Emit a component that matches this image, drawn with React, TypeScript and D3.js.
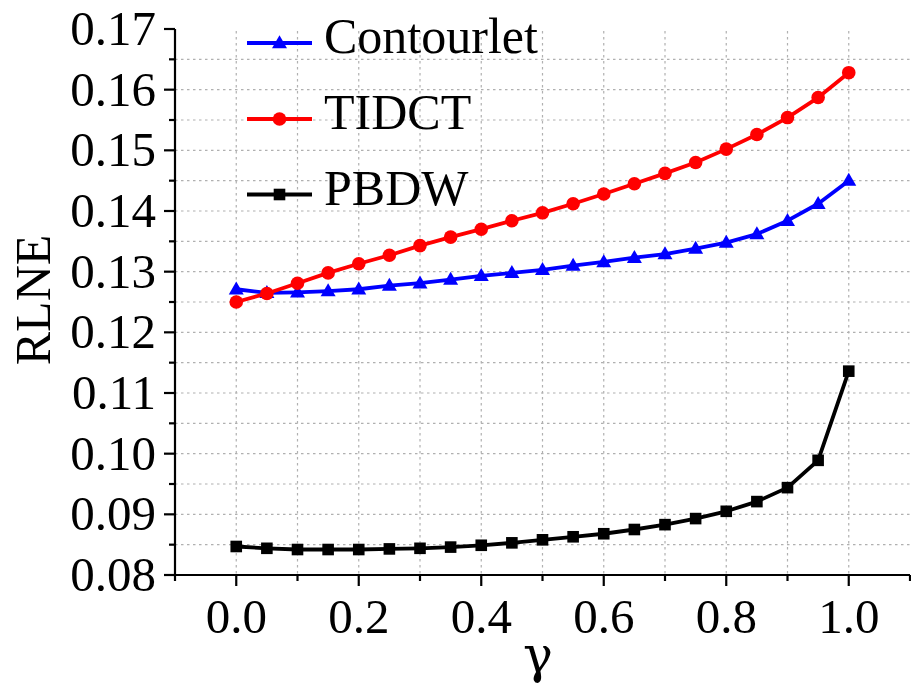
import React from "react";
import * as d3 from "d3";

const gammas = [0, 0.05, 0.1, 0.15, 0.2, 0.25, 0.3, 0.35, 0.4, 0.45, 0.5, 0.55, 0.6, 0.65, 0.7, 0.75, 0.8, 0.85, 0.9, 0.95, 1.0];
const contourlet = [0.1271, 0.1265, 0.1266, 0.1268, 0.1271, 0.1277, 0.1281, 0.1287, 0.1293, 0.1298, 0.1303, 0.1310, 0.1316, 0.1323, 0.1329, 0.1338, 0.1348, 0.1362, 0.1384, 0.1412, 0.1450];
const tidct = [0.1250, 0.1264, 0.1281, 0.1298, 0.1313, 0.1327, 0.1343, 0.1357, 0.1370, 0.1384, 0.1397, 0.1412, 0.1428, 0.1445, 0.1462, 0.1480, 0.1502, 0.1526, 0.1554, 0.1587, 0.1628];
const pbdw = [0.0847, 0.0844, 0.0842, 0.0842, 0.0842, 0.0843, 0.0844, 0.0846, 0.0849, 0.0853, 0.0858, 0.0863, 0.0868, 0.0875, 0.0883, 0.0893, 0.0905, 0.0921, 0.0944, 0.0989, 0.1136];
const xMajorTicks = [0, 0.2, 0.4, 0.6, 0.8, 1.0];
const xMinorTicks = [-0.1, 0.1, 0.3, 0.5, 0.7, 0.9, 1.1];
const xGrid = [0, 0.1, 0.2, 0.3, 0.4, 0.5, 0.6, 0.7, 0.8, 0.9, 1.0];
const yMajorTicks = [0.08, 0.09, 0.10, 0.11, 0.12, 0.13, 0.14, 0.15, 0.16, 0.17];
const yMinorTicks = [0.085, 0.095, 0.105, 0.115, 0.125, 0.135, 0.145, 0.155, 0.165];
const yGrid = [0.085, 0.09, 0.095, 0.10, 0.105, 0.11, 0.115, 0.12, 0.125, 0.13, 0.135, 0.14, 0.145, 0.15, 0.155, 0.16, 0.165];
const seriesNames = ["Contourlet", "TIDCT", "PBDW"];
const seriesColors = ["#0000ff", "#ff0000", "#000000"];
const seriesMarkers = ["triangle", "circle", "square"];

const W = 911, H = 690;
const FONT = "'Liberation Serif', 'Times New Roman', serif";

function Marker({ type, x, y, color }: { type: string; x: number; y: number; color: string }) {
  if (type === "circle") return <circle cx={x} cy={y} r={6.8} fill={color} />;
  if (type === "square") return <rect x={x - 5.8} y={y - 5.8} width={11.6} height={11.6} fill={color} />;
  const s = 15;
  const h = s * Math.sqrt(3) / 2;
  return <path d={`M${x},${y - h * 0.6}L${x + s / 2},${y + h * 0.4}L${x - s / 2},${y + h * 0.4}Z`} fill={color} />;
}

export default function App() {
  const x = d3.scaleLinear().domain([-0.1, 1.1]).range([175, 910]);
  const y = d3.scaleLinear().domain([0.08, 0.17]).range([575, 29]);
  const fmtX = d3.format(".1f");
  const fmtY = d3.format(".2f");
  const data = [contourlet, tidct, pbdw];
  const line = d3.line<number>().x((_, i) => x(gammas[i])).y((d) => y(d));
  const legendY = [43, 119, 194.5];

  return (
    <svg width={W} height={H} style={{ position: "absolute", left: 0, top: 0, background: "#fff" }} fontFamily={FONT}>
      <rect width={W} height={H} fill="#fff" />
      {/* grid */}
      <g stroke="#b0b0b0" strokeWidth={1.2} strokeDasharray="2.5,3.5">
        {xGrid.map((g) => (
          <line key={"gx" + g} x1={x(g)} x2={x(g)} y1={y(0.17) + 2} y2={y(0.08)} />
        ))}
        {yGrid.map((g) => (
          <line key={"gy" + g} x1={x(-0.1)} x2={x(1.1)} y1={y(g)} y2={y(g)} />
        ))}
      </g>
      {/* axes */}
      <g stroke="#000" strokeWidth={2.2} fill="none">
        <line x1={x(-0.1)} x2={x(-0.1)} y1={y(0.17)} y2={y(0.08) + 1} />
        <line x1={x(-0.1) - 1} x2={x(1.1)} y1={y(0.08)} y2={y(0.08)} />
        {xMajorTicks.map((t) => (
          <line key={"xt" + t} x1={x(t)} x2={x(t)} y1={y(0.08)} y2={y(0.08) + 11} />
        ))}
        {xMinorTicks.map((t) => (
          <line key={"xm" + t} x1={x(t)} x2={x(t)} y1={y(0.08)} y2={y(0.08) + 6} />
        ))}
        {yMajorTicks.map((t) => (
          <line key={"yt" + t} x1={x(-0.1) - 11} x2={x(-0.1)} y1={y(t)} y2={y(t)} />
        ))}
        {yMinorTicks.map((t) => (
          <line key={"ym" + t} x1={x(-0.1) - 6} x2={x(-0.1)} y1={y(t)} y2={y(t)} />
        ))}
      </g>
      {/* tick labels */}
      <g fontSize={49} fill="#000">
        {xMajorTicks.map((t) => (
          <text key={"xl" + t} x={x(t)} y={633} textAnchor="middle">{fmtX(t)}</text>
        ))}
        {yMajorTicks.map((t) => (
          <text key={"yl" + t} x={156} y={y(t) + 16} textAnchor="end">{fmtY(t)}</text>
        ))}
      </g>
      {/* axis titles */}
      <text x={538} y={672} fontSize={50} textAnchor="middle" fontFamily="'DejaVu Serif', serif">γ</text>
      <text transform="translate(50,300) rotate(-90)" fontSize={50} textAnchor="middle">RLNE</text>
      {/* series */}
      {data.map((vals, si) => (
        <g key={"s" + si}>
          <path d={line(vals) || ""} fill="none" stroke={seriesColors[si]} strokeWidth={3.8} strokeLinejoin="round" />
          {vals.map((v, i) => (
            <Marker key={i} type={seriesMarkers[si]} x={x(gammas[i])} y={y(v)} color={seriesColors[si]} />
          ))}
        </g>
      ))}
      {/* legend */}
      {seriesNames.map((n, i) => (
        <g key={"lg" + n}>
          <line x1={247} x2={312} y1={legendY[i]} y2={legendY[i]} stroke={seriesColors[i]} strokeWidth={3.8} />
          <Marker type={seriesMarkers[i]} x={279.5} y={legendY[i]} color={seriesColors[i]} />
          <text x={324} y={legendY[i] + 10} fontSize={50} fill="#000">{n}</text>
        </g>
      ))}
    </svg>
  );
}
